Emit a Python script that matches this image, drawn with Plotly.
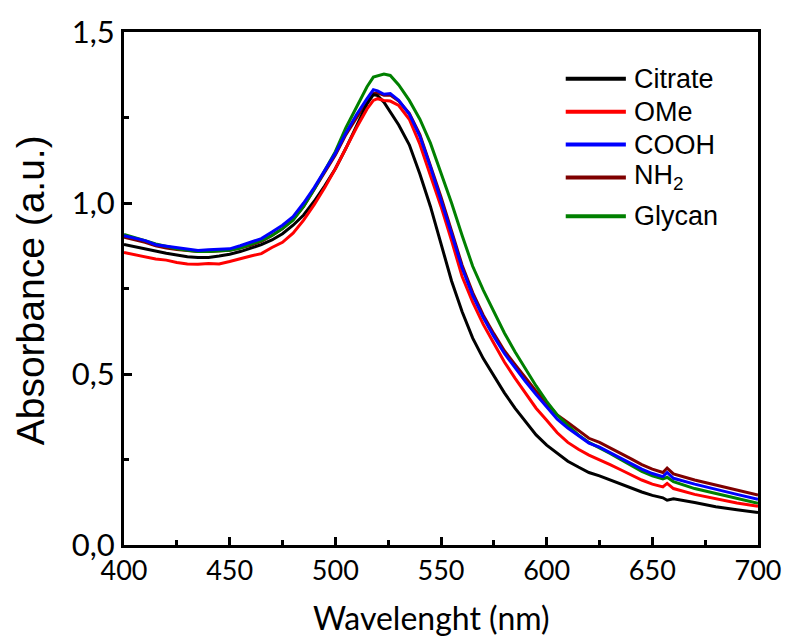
import plotly.graph_objects as go

wavelength = [400, 405, 410, 415, 420, 425, 430, 435, 440, 445, 450, 455, 460, 465, 470, 475,
              480, 485, 490, 495, 500, 505, 510, 515, 518, 520, 523, 526, 530, 535, 540, 545,
              550, 555, 560, 565, 570, 575, 580, 585, 590, 595, 600, 605, 610, 615, 620, 625,
              630, 635, 640, 645, 650, 655, 657, 660, 670, 680, 690, 700]

citrate = [0.879, 0.872, 0.866, 0.860, 0.853, 0.848, 0.843, 0.841, 0.841, 0.845, 0.850, 0.858,
           0.867, 0.878, 0.892, 0.910, 0.935, 0.965, 1.005, 1.050, 1.100, 1.160, 1.225, 1.290,
           1.317, 1.314, 1.295, 1.265, 1.228, 1.170, 1.085, 0.990, 0.880, 0.772, 0.682, 0.605,
           0.545, 0.495, 0.445, 0.400, 0.360, 0.322, 0.292, 0.268, 0.245, 0.228, 0.212, 0.202,
           0.190, 0.180, 0.168, 0.155, 0.145, 0.138, 0.131, 0.135, 0.124, 0.112, 0.103, 0.095]

ome = [0.855, 0.848, 0.842, 0.836, 0.833, 0.826, 0.822, 0.821, 0.823, 0.822, 0.829, 0.838,
       0.845, 0.852, 0.870, 0.885, 0.912, 0.950, 0.995, 1.045, 1.100, 1.160, 1.220, 1.275,
       1.300, 1.305, 1.300, 1.298, 1.285, 1.245, 1.172, 1.080, 0.990, 0.890, 0.785, 0.710,
       0.645, 0.590, 0.535, 0.488, 0.445, 0.400, 0.365, 0.328, 0.300, 0.280, 0.263, 0.250,
       0.235, 0.220, 0.205, 0.190, 0.178, 0.170, 0.180, 0.165, 0.148, 0.135, 0.123, 0.113]

cooh = [0.904, 0.897, 0.890, 0.878, 0.874, 0.870, 0.866, 0.861, 0.863, 0.864, 0.866, 0.875,
        0.885, 0.896, 0.915, 0.935, 0.960, 1.000, 1.045, 1.095, 1.145, 1.205, 1.258, 1.305,
        1.331, 1.328, 1.318, 1.320, 1.300, 1.260, 1.195, 1.105, 1.010, 0.910, 0.810, 0.730,
        0.665, 0.610, 0.560, 0.518, 0.478, 0.440, 0.405, 0.368, 0.342, 0.320, 0.298, 0.286,
        0.270, 0.255, 0.240, 0.222, 0.209, 0.200, 0.212, 0.195, 0.178, 0.162, 0.148, 0.134]

nh2 = [0.900, 0.893, 0.885, 0.875, 0.868, 0.864, 0.860, 0.858, 0.858, 0.860, 0.862, 0.868,
       0.876, 0.888, 0.905, 0.925, 0.952, 0.990, 1.040, 1.090, 1.140, 1.200, 1.250, 1.298,
       1.320, 1.322, 1.315, 1.316, 1.298, 1.262, 1.200, 1.112, 1.018, 0.918, 0.818, 0.738,
       0.672, 0.618, 0.568, 0.528, 0.488, 0.450, 0.415, 0.380, 0.358, 0.335, 0.312, 0.300,
       0.285, 0.268, 0.252, 0.235, 0.222, 0.212, 0.225, 0.208, 0.190, 0.175, 0.160, 0.146]

glycan = [0.908, 0.900, 0.890, 0.880, 0.872, 0.866, 0.862, 0.858, 0.858, 0.860, 0.862, 0.868,
          0.878, 0.890, 0.905, 0.925, 0.950, 0.990, 1.040, 1.095, 1.150, 1.220, 1.280, 1.340,
          1.368, 1.372, 1.377, 1.373, 1.345, 1.300, 1.245, 1.175, 1.090, 1.000, 0.905, 0.815,
          0.745, 0.680, 0.620, 0.565, 0.515, 0.465, 0.420, 0.380, 0.350, 0.322, 0.300, 0.285,
          0.268, 0.250, 0.232, 0.215, 0.202, 0.193, 0.198, 0.185, 0.165, 0.150, 0.135, 0.122]

series_names = ["Citrate", "OMe", "COOH", "NH<sub>2</sub>", "Glycan"]
series_values = [citrate, ome, cooh, nh2, glycan]
series_colors = ["#000000", "#ff0000", "#0000ff", "#7f0000", "#008000"]
draw_order = [3, 4, 0, 1, 2]

x_tickvals = [400, 450, 500, 550, 600, 650, 700]
y_tickvals = [0.0, 0.5, 1.0, 1.5]
y_ticktext = ["0,0", "0,5", "1,0", "1,5"]

W, H = 793, 639
L, R, T, B = 124, 26, 30, 94
PW, PH = W - L - R, H - T - B


def px(xp):
    return (xp - L) / PW


def py(yp):
    return (H - B - yp) / PH


fig = go.Figure()
for i in draw_order:
    fig.add_trace(go.Scatter(x=wavelength, y=series_values[i], mode="lines",
                             line=dict(color=series_colors[i], width=3),
                             name=series_names[i], showlegend=False))

axis_common = dict(showline=True, linewidth=3, linecolor="black", mirror=True,
                   ticks="inside", ticklen=8, tickwidth=3, tickcolor="black",
                   showgrid=False, zeroline=False, ticklabeloverflow="allow")

fig.update_xaxes(range=[400, 700], tickvals=x_tickvals,
                 tickfont=dict(family="Lato", size=27, color="black"),
                 minor=dict(ticks="inside", ticklen=5, tickwidth=3, tickcolor="black",
                            dtick=25, tick0=400, showgrid=False),
                 **axis_common)
fig.update_yaxes(range=[0, 1.5], tickvals=y_tickvals, ticktext=y_ticktext,
                 tickfont=dict(family="Lato", size=31, color="black"),
                 minor=dict(ticks="inside", ticklen=5, tickwidth=3, tickcolor="black",
                            dtick=0.25, tick0=0, showgrid=False),
                 **axis_common)

annotations = [
    dict(text="Wavelenght (nm)", x=px(436), y=py(618), xref="paper", yref="paper",
         showarrow=False, xanchor="center", yanchor="middle",
         font=dict(family="Lato", size=32, color="black")),
    dict(text="Absorbance (a.u.)", x=px(30), y=py(289), xref="paper", yref="paper",
         showarrow=False, xanchor="center", yanchor="middle", textangle=-90,
         font=dict(family="Liberation Sans", size=39, color="black")),
]
shapes = []
legend_rows = [77, 110, 143, 176, 215]
for i, yrow in enumerate(legend_rows):
    shapes.append(dict(type="line", xref="paper", yref="paper",
                       x0=px(572), x1=px(633), y0=py(yrow), y1=py(yrow),
                       line=dict(color=series_colors[i], width=4)))
    annotations.append(dict(text=series_names[i], x=px(639), y=py(yrow), xref="paper",
                            yref="paper", showarrow=False, xanchor="left", yanchor="middle",
                            font=dict(family="Liberation Sans", size=27, color="black")))

fig.update_layout(width=W, height=H, margin=dict(l=L, r=R, t=T, b=B),
                  paper_bgcolor="white", plot_bgcolor="white",
                  annotations=annotations, shapes=shapes, showlegend=False)

fig.write_html("out.html",
               post_script="document.documentElement.style.overflow='hidden';"
                           "document.body.style.overflow='hidden';")
